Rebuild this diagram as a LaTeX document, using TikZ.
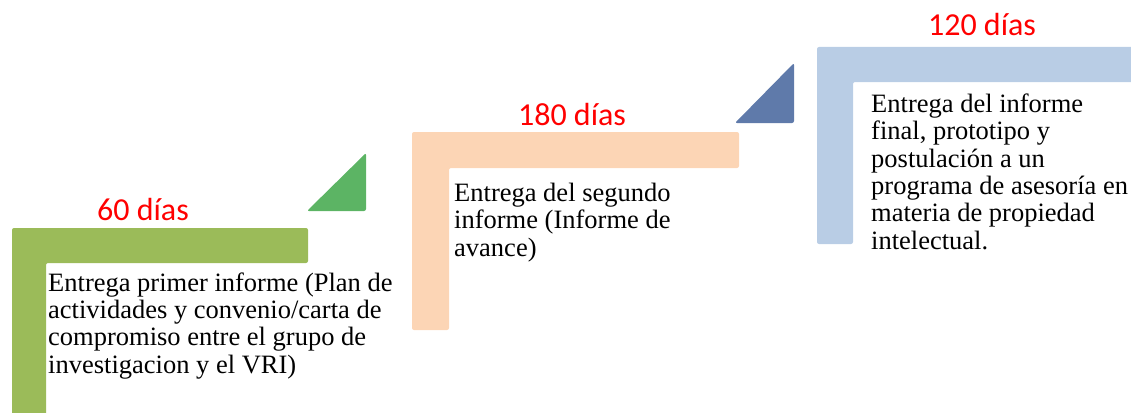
\documentclass[tikz,border=0pt]{standalone}
\usepackage{fontspec}
\setmainfont{Liberation Serif}
\newfontfamily\dayfont{Carlito}
\usetikzlibrary{positioning}
\newcommand\bodyfont{\fontsize{26.5}{27.3}\selectfont}
\newcommand\labelfont{\fontsize{32}{36}\dayfont}

\definecolor{stepgreen}{HTML}{9BBB59}
\definecolor{steporange}{HTML}{FCD5B5}
\definecolor{stepblue}{HTML}{B9CDE5}
\definecolor{triggreen}{HTML}{5CB464}
\definecolor{trigblue}{HTML}{5F7AAA}

\begin{document}
\begin{tikzpicture}[x=1pt,y=-1pt,
    daylabel/.style={font=\labelfont,text=red,inner sep=0pt,anchor=base},
    stepbody/.style={font=\bodyfont,align=left,inner sep=0pt,anchor=base west},
    stepshape/.style={rounded corners=2pt}]
    \useasboundingbox (0,0) rectangle (1131,412);

    % steps
    \fill[stepgreen,stepshape] (12,228) -- (308,228) -- (308,263) -- (46,263) -- (46,420) -- (12,420) -- cycle;
    \fill[steporange,stepshape] (412,132) -- (739,132) -- (739,168) -- (449,168) -- (449,330) -- (412,330) -- cycle;
    \fill[stepblue,stepshape] (817,47) -- (1140,47) -- (1140,82) -- (853,82) -- (853,244) -- (817,244) -- cycle;

    % arrows between steps
    \fill[triggreen,stepshape] (307,211) -- (366,153) -- (366,211) -- cycle;
    \fill[trigblue,stepshape] (735,123) -- (794,63) -- (794,123) -- cycle;

    \node[daylabel] (day60) at (143,220) {60 días};
    \node[daylabel] (day180) at (572,125) {180 días};
    \node[daylabel] (day120) at (982,36) {120 días};

    % base of a multi-line node is its last line
    \node[stepbody] (first) at (48,373) {Entrega primer informe (Plan de\\actividades y convenio/carta de\\compromiso entre el grupo de\\investigacion y el VRI)};
    \node[stepbody] (second) at (454,256) {Entrega del segundo\\informe (Informe de\\avance)};
    \node[stepbody] (final) at (871,249) {Entrega del informe\\final, prototipo y\\postulación a un\\programa de asesoría en\\materia de propiedad\\intelectual.};

  \end{tikzpicture}
\end{document}
